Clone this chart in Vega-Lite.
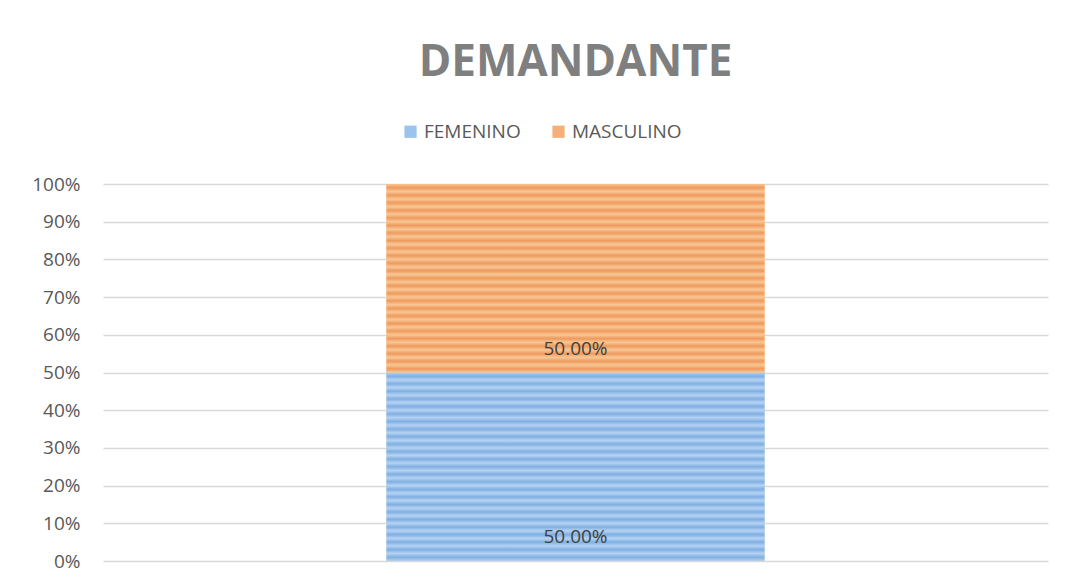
{
  "$schema": "https://vega.github.io/schema/vega-lite/v6.json",
  "autosize": "none",
  "width": 945,
  "height": 377,
  "padding": {"left": 103, "top": 184, "right": 18, "bottom": 21},
  "background": "white",
  "title": {
    "text": "DEMANDANTE",
    "font": "Open Sans",
    "fontSize": 44,
    "fontWeight": "bold",
    "color": "#7f7f7f",
    "anchor": "middle",
    "baseline": "alphabetic",
    "offset": 2
  },
  "data": {
    "values": [
      {"cat": "DEMANDANTE", "sexo": "FEMENINO", "v": 0.5},
      {"cat": "DEMANDANTE", "sexo": "MASCULINO", "v": 0.5}
    ]
  },
  "transform": [
    {"stack": "v", "groupby": ["cat"], "sort": [{"field": "sexo", "order": "ascending"}], "as": ["v0", "v1"]}
  ],
  "config": {
    "view": {"stroke": null},
    "font": "Open Sans"
  },
  "encoding": {
    "x": {
      "field": "cat",
      "type": "nominal",
      "scale": {"paddingInner": 0.6, "paddingOuter": 0.3},
      "axis": null
    },
    "y": {
      "field": "v0",
      "type": "quantitative",
      "scale": {"domain": [0, 1]},
      "axis": {
        "format": ".0%",
        "values": [0, 0.1, 0.2, 0.3, 0.4, 0.5, 0.6, 0.7, 0.8, 0.9, 1],
        "labelOverlap": false,
        "domain": false,
        "ticks": false,
        "gridColor": "#d9d9d9",
        "gridWidth": 1.3,
        "labelFont": "Open Sans",
        "labelFontSize": 19,
        "labelColor": "#595959",
        "labelPadding": 23,
        "title": null
      }
    }
  },
  "layer": [
    {
      "mark": {"type": "bar"},
      "encoding": {
        "y2": {"field": "v1"},
        "color": {
          "field": "sexo",
          "type": "nominal",
          "scale": {"domain": ["FEMENINO", "MASCULINO"], "range": ["#9cc3ec", "#f5b07a"]},
          "legend": {
            "title": null,
            "orient": "none",
            "direction": "horizontal",
            "legendX": 298,
            "legendY": -62,
            "symbolType": "square",
            "symbolSize": 150,
            "symbolStrokeWidth": 0,
            "labelFont": "Open Sans",
            "labelFontSize": 19,
            "labelColor": "#595959",
            "labelOffset": 4,
            "columnPadding": 28
          }
        }
      }
    },
    {
      "transform": [{"filter": "datum.sexo === 'FEMENINO'"}],
      "mark": {
        "type": "bar",
        "fill": {
          "gradient": "linear", "x1": 0, "y1": 0, "x2": 0, "y2": 1,
          "stops": [
            {"offset": 0.00, "color": "#b5d3f3"}, {"offset": 0.02, "color": "#80afe0"},
            {"offset": 0.04, "color": "#b5d3f3"}, {"offset": 0.06, "color": "#80afe0"},
            {"offset": 0.08, "color": "#b5d3f3"}, {"offset": 0.10, "color": "#80afe0"},
            {"offset": 0.12, "color": "#b5d3f3"}, {"offset": 0.14, "color": "#80afe0"},
            {"offset": 0.16, "color": "#b5d3f3"}, {"offset": 0.18, "color": "#80afe0"},
            {"offset": 0.20, "color": "#b5d3f3"}, {"offset": 0.22, "color": "#80afe0"},
            {"offset": 0.24, "color": "#b5d3f3"}, {"offset": 0.26, "color": "#80afe0"},
            {"offset": 0.28, "color": "#b5d3f3"}, {"offset": 0.30, "color": "#80afe0"},
            {"offset": 0.32, "color": "#b5d3f3"}, {"offset": 0.34, "color": "#80afe0"},
            {"offset": 0.36, "color": "#b5d3f3"}, {"offset": 0.38, "color": "#80afe0"},
            {"offset": 0.40, "color": "#b5d3f3"}, {"offset": 0.42, "color": "#80afe0"},
            {"offset": 0.44, "color": "#b5d3f3"}, {"offset": 0.46, "color": "#80afe0"},
            {"offset": 0.48, "color": "#b5d3f3"}, {"offset": 0.50, "color": "#80afe0"},
            {"offset": 0.52, "color": "#b5d3f3"}, {"offset": 0.54, "color": "#80afe0"},
            {"offset": 0.56, "color": "#b5d3f3"}, {"offset": 0.58, "color": "#80afe0"},
            {"offset": 0.60, "color": "#b5d3f3"}, {"offset": 0.62, "color": "#80afe0"},
            {"offset": 0.64, "color": "#b5d3f3"}, {"offset": 0.66, "color": "#80afe0"},
            {"offset": 0.68, "color": "#b5d3f3"}, {"offset": 0.70, "color": "#80afe0"},
            {"offset": 0.72, "color": "#b5d3f3"}, {"offset": 0.74, "color": "#80afe0"},
            {"offset": 0.76, "color": "#b5d3f3"}, {"offset": 0.78, "color": "#80afe0"},
            {"offset": 0.80, "color": "#b5d3f3"}, {"offset": 0.82, "color": "#80afe0"},
            {"offset": 0.84, "color": "#b5d3f3"}, {"offset": 0.86, "color": "#80afe0"},
            {"offset": 0.88, "color": "#b5d3f3"}, {"offset": 0.90, "color": "#80afe0"},
            {"offset": 0.92, "color": "#b5d3f3"}, {"offset": 0.94, "color": "#80afe0"},
            {"offset": 0.96, "color": "#b5d3f3"}, {"offset": 0.98, "color": "#80afe0"},
            {"offset": 1.00, "color": "#b5d3f3"}
          ]
        }
      },
      "encoding": {"y2": {"field": "v1"}}
    },
    {
      "transform": [{"filter": "datum.sexo === 'MASCULINO'"}],
      "mark": {
        "type": "bar",
        "fill": {
          "gradient": "linear", "x1": 0, "y1": 0, "x2": 0, "y2": 1,
          "stops": [
            {"offset": 0.00, "color": "#f9c794"}, {"offset": 0.02, "color": "#ee9a5e"},
            {"offset": 0.04, "color": "#f9c794"}, {"offset": 0.06, "color": "#ee9a5e"},
            {"offset": 0.08, "color": "#f9c794"}, {"offset": 0.10, "color": "#ee9a5e"},
            {"offset": 0.12, "color": "#f9c794"}, {"offset": 0.14, "color": "#ee9a5e"},
            {"offset": 0.16, "color": "#f9c794"}, {"offset": 0.18, "color": "#ee9a5e"},
            {"offset": 0.20, "color": "#f9c794"}, {"offset": 0.22, "color": "#ee9a5e"},
            {"offset": 0.24, "color": "#f9c794"}, {"offset": 0.26, "color": "#ee9a5e"},
            {"offset": 0.28, "color": "#f9c794"}, {"offset": 0.30, "color": "#ee9a5e"},
            {"offset": 0.32, "color": "#f9c794"}, {"offset": 0.34, "color": "#ee9a5e"},
            {"offset": 0.36, "color": "#f9c794"}, {"offset": 0.38, "color": "#ee9a5e"},
            {"offset": 0.40, "color": "#f9c794"}, {"offset": 0.42, "color": "#ee9a5e"},
            {"offset": 0.44, "color": "#f9c794"}, {"offset": 0.46, "color": "#ee9a5e"},
            {"offset": 0.48, "color": "#f9c794"}, {"offset": 0.50, "color": "#ee9a5e"},
            {"offset": 0.52, "color": "#f9c794"}, {"offset": 0.54, "color": "#ee9a5e"},
            {"offset": 0.56, "color": "#f9c794"}, {"offset": 0.58, "color": "#ee9a5e"},
            {"offset": 0.60, "color": "#f9c794"}, {"offset": 0.62, "color": "#ee9a5e"},
            {"offset": 0.64, "color": "#f9c794"}, {"offset": 0.66, "color": "#ee9a5e"},
            {"offset": 0.68, "color": "#f9c794"}, {"offset": 0.70, "color": "#ee9a5e"},
            {"offset": 0.72, "color": "#f9c794"}, {"offset": 0.74, "color": "#ee9a5e"},
            {"offset": 0.76, "color": "#f9c794"}, {"offset": 0.78, "color": "#ee9a5e"},
            {"offset": 0.80, "color": "#f9c794"}, {"offset": 0.82, "color": "#ee9a5e"},
            {"offset": 0.84, "color": "#f9c794"}, {"offset": 0.86, "color": "#ee9a5e"},
            {"offset": 0.88, "color": "#f9c794"}, {"offset": 0.90, "color": "#ee9a5e"},
            {"offset": 0.92, "color": "#f9c794"}, {"offset": 0.94, "color": "#ee9a5e"},
            {"offset": 0.96, "color": "#f9c794"}, {"offset": 0.98, "color": "#ee9a5e"},
            {"offset": 1.00, "color": "#f9c794"}
          ]
        }
      },
      "encoding": {"y2": {"field": "v1"}}
    },
    {
      "mark": {"type": "text", "dy": -24, "baseline": "middle", "align": "center", "font": "Open Sans", "fontSize": 19, "color": "#404040"},
      "encoding": {
        "text": {"field": "v", "type": "quantitative", "format": ".2%"}
      }
    }
  ]
}
